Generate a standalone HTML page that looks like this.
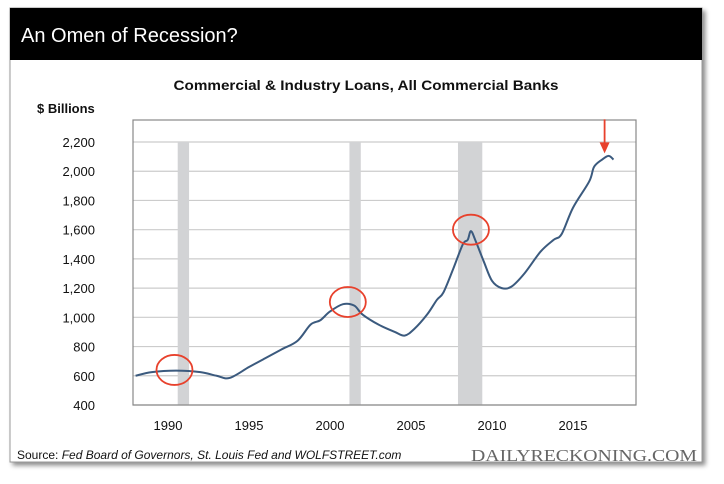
<!DOCTYPE html>
<html><head><meta charset="utf-8">
<style>
html,body{margin:0;padding:0;background:#fff;}
body{width:724px;height:479px;position:relative;overflow:hidden;font-family:"Liberation Sans",sans-serif;}
</style></head>
<body>
<svg width="724" height="479" xmlns="http://www.w3.org/2000/svg">
<defs><filter id="sh" x="-5%" y="-5%" width="115%" height="115%"><feDropShadow dx="3" dy="3" stdDeviation="2.5" flood-color="#000" flood-opacity="0.45"/></filter></defs>
<rect x="10" y="8" width="692" height="454" fill="#fff" stroke="#999" stroke-width="1" filter="url(#sh)"/>
<rect x="10" y="8" width="692" height="52" fill="#000"/>
<text x="21" y="42" fill="#fff" font-size="20" font-family="Liberation Sans, sans-serif">An Omen of Recession?</text>
<text x="366" y="90" text-anchor="middle" font-size="14" font-weight="bold" fill="#111" font-family="Liberation Sans Narrow, Liberation Sans, sans-serif" textLength="385" lengthAdjust="spacingAndGlyphs">Commercial &amp; Industry Loans, All Commercial Banks</text>
<text x="37" y="113" font-size="13" font-weight="bold" fill="#111">$ Billions</text>
<g id="grid"></g>
<g id="bands"></g>
<g id="yt"></g>
<g id="xt"></g>
<rect x="133" y="120" width="503" height="285" fill="none" stroke="#888" stroke-width="1.2"/>
<path id="line" fill="none" stroke="#3b5a7e" stroke-width="2"/>
<g id="marks"></g>
<text x="17" y="459" font-size="12" fill="#111">Source: <tspan font-style="italic">Fed Board of Governors, St. Louis Fed and WOLFSTREET.com</tspan></text>
<text x="697" y="461" text-anchor="end" font-size="17" fill="#666" font-family="Liberation Serif, serif" textLength="226" lengthAdjust="spacingAndGlyphs">DAILYRECKONING.COM</text>
</svg>
<script>
const years=[1988,1989,1990.5,1992,1993,1993.8,1995,1996,1997,1998,1998.8,1999.4,2000,2000.8,2001.5,2002,2003,2004,2004.6,2005.2,2006,2006.6,2007,2007.6,2008.2,2008.5,2008.7,2009,2009.5,2010,2010.6,2011.2,2012,2013,2013.8,2014.3,2015,2016,2016.3,2016.8,2017.2,2017.5];
const values=[600,625,635,625,600,585,660,720,780,840,950,980,1040,1090,1080,1020,950,900,875,920,1020,1120,1170,1330,1500,1530,1590,1520,1380,1250,1200,1210,1300,1450,1530,1570,1750,1930,2030,2080,2105,2080];
const yTicks=[400,600,800,1000,1200,1400,1600,1800,2000,2200];
const xTicks=[1990,1995,2000,2005,2010,2015];
const recessions=[[1990.6,1991.3],[2001.2,2001.9],[2007.9,2009.4]];
const circleYears=[1990.4,2001.1,2008.7];
const circleValues=[640,1105,1600];
const arrowYear=[2016.95];
const arrowValue=[2095];
const NS='http://www.w3.org/2000/svg';
const X=y=>168+(y-1990)*16.2;
const Y=v=>405-(v-400)*(263/1800);
function mk(t,a,p){const e=document.createElementNS(NS,t);for(const k in a)e.setAttribute(k,a[k]);p.appendChild(e);return e;}
const grid=document.getElementById('grid'),yt=document.getElementById('yt'),xt=document.getElementById('xt'),bands=document.getElementById('bands'),marks=document.getElementById('marks');
yTicks.forEach(v=>{
 const l=mk('line',{x1:133,x2:636,y1:Y(v),y2:Y(v),stroke:'#ccc','stroke-width':1.2},grid);
 
 
 const t=mk('text',{x:95,y:Y(v)+5,'text-anchor':'end','font-size':13,fill:'#111'},yt);
 
 
 t.textContent=v.toLocaleString('en-US');
});
xTicks.forEach(y=>{
 const t=mk('text',{x:X(y),y:430,'text-anchor':'middle','font-size':13,fill:'#111'},xt);
 
 
 t.textContent=y;
});
recessions.forEach(r=>{
 const b=mk('rect',{x:X(r[0]),y:142,width:X(r[1])-X(r[0]),height:263,fill:'#d2d3d5'},bands);
 
 
});
// smooth path through points (Catmull-Rom)
const P=years.map((y,i)=>[X(y),Y(values[i])]);
let d='M'+P[0][0]+','+P[0][1];
for(let i=0;i<P.length-1;i++){const p0=P[Math.max(0,i-1)],p1=P[i],p2=P[i+1],p3=P[Math.min(P.length-1,i+2)];
 d+=` C${p1[0]+(p2[0]-p0[0])/6},${p1[1]+(p2[1]-p0[1])/6} ${p2[0]-(p3[0]-p1[0])/6},${p2[1]-(p3[1]-p1[1])/6} ${p2[0]},${p2[1]}`;}
document.getElementById('line').setAttribute('d',d);
circleYears.forEach((y,i)=>{
 const c=mk('ellipse',{cx:X(y),cy:Y(circleValues[i]),rx:18,ry:15,fill:'none',stroke:'#e8412c','stroke-width':1.8},marks);
 
 
});
const ax=X(arrowYear[0]),ay=Y(arrowValue[0])-4;
const al=mk('line',{x1:ax,x2:ax,y1:ay-34,y2:ay-8,stroke:'#e8412c','stroke-width':1.8},marks);


const ah=mk('polygon',{points:`${ax-5},${ay-11} ${ax+5},${ay-11} ${ax},${ay}`,fill:'#e8412c'},marks);


</script>
</body></html>
